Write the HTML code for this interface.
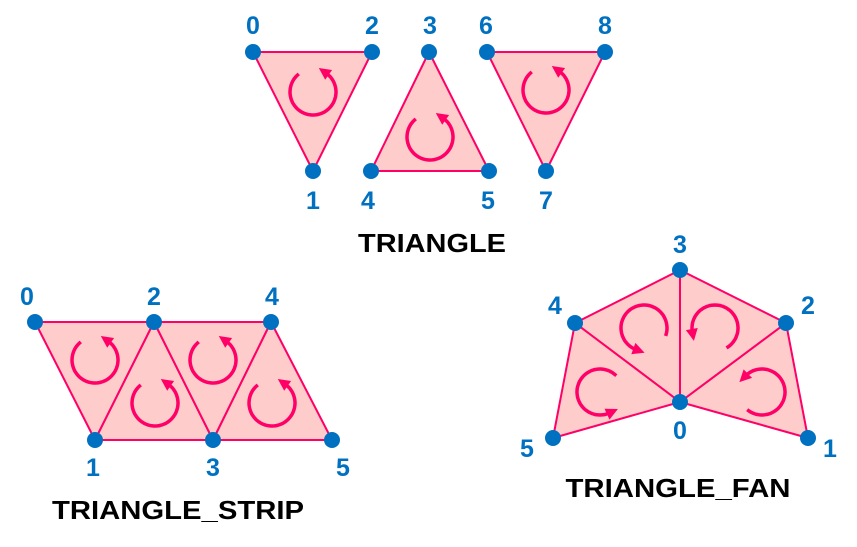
<!DOCTYPE html>
<html><head><meta charset="utf-8"><style>
html,body{margin:0;padding:0;background:#fff;width:857px;height:547px;overflow:hidden}
svg{display:block}
</style></head><body>
<svg id="s" width="857" height="547" viewBox="0 0 857 547"></svg>
<script>
const NS="http://www.w3.org/2000/svg";
const svg=document.getElementById('s');
// vertex data per group
const triVerts=[[253,52],[313,171],[372,52],[429,52],[371,171],[489,171],[487,52],[546,171],[605,52]];
const triLabels=[[253,25],[313,200],[372,25],[430,25],[368,200],[488,200],[486,25],[546,200],[605,25]];
const triFaces=[[0,1,2],[3,4,5],[6,7,8]];
const stripVerts=[[35,322],[95,440],[154,322],[213,440],[271,322],[332,440]];
const stripLabels=[[27,296],[93,467],[154,296],[213,467],[272,296],[343,467]];
const stripFaces=[[0,1,2],[1,2,3],[2,3,4],[3,4,5]];
const fanVerts=[[680,402],[808,438],[786,323],[680,270],[575,323],[553,438]];
const fanLabels=[[680,430],[830,448],[808,305],[680,244],[555,305],[527,448]];
const fanFaces=[[0,1,2],[0,2,3],[0,3,4],[0,4,5]];
// arcs: cx, cy, startAngle, endAngle (degrees, decreasing)
const arcs=[[313,92,-128,-415],[430,137,-128,-415],[546,90,-128,-415],
[95,360,-128,-415],[155,403,-128,-415],[213,360,-128,-415],[272,403,-128,-415],
[644,328,20,-250],[715,328,60,-190],[600,392,-45,-295],[762,392,130,-135]];
const titles=[["TRIANGLE",432,243,148],["TRIANGLE_STRIP",178,510,252],["TRIANGLE_FAN",678,488,225]];
function el(t,a){const e=document.createElementNS(NS,t);for(const k in a)e.setAttribute(k,a[k]);svg.appendChild(e);return e;}
function faces(V,F,name){F.forEach((f,i)=>{const p=el('polygon',{points:f.map(j=>V[j].join(',')).join(' '),fill:'#ffcccc',stroke:'#ff0066','stroke-width':2,'stroke-linejoin':'round'});

});}
faces(triVerts,triFaces,'triangles');faces(stripVerts,stripFaces,'strip');faces(fanVerts,fanFaces,'fan');
const R=23;
arcs.forEach((a,i)=>{const [cx,cy,s,e]=a;let d='';const n=60;
for(let k=0;k<=n;k++){const t=(s+(e-s)*k/n)*Math.PI/180;d+=(k?'L':'M')+(cx+R*Math.cos(t)).toFixed(1)+','+(cy+R*Math.sin(t)).toFixed(1);}
const p=el('path',{d:d,fill:'none',stroke:'#ff0066','stroke-width':3.5});


const t=e*Math.PI/180;const ex=cx+R*Math.cos(t),ey=cy+R*Math.sin(t);
const dx=Math.sin(t),dy=-Math.cos(t);const nx=-dy,ny=dx;
const tip=[ex+dx*9,ey+dy*9],b1=[ex-dx*3+nx*6,ey-dy*3+ny*6],b2=[ex-dx*3-nx*6,ey-dy*3-ny*6];
const h=el('polygon',{points:[tip,b1,b2].map(q=>q.map(v=>v.toFixed(1)).join(',')).join(' '),fill:'#ff0066'});

});
function verts(V,L,name){V.forEach((v,i)=>{const c=el('circle',{cx:v[0],cy:v[1],r:8,fill:'#0070c0'});


const t=el('text',{x:L[i][0],y:L[i][1]+9,'text-anchor':'middle','font-family':'Liberation Sans, sans-serif','font-weight':'bold','font-size':25,fill:'#0070c0'});t.textContent=i;

});}
verts(triVerts,triLabels,'triangles');verts(stripVerts,stripLabels,'strip');verts(fanVerts,fanLabels,'fan');
titles.forEach(tt=>{const t=el('text',{x:tt[1],y:tt[2]+9,'text-anchor':'middle','font-family':'Liberation Sans, sans-serif','font-weight':'bold','font-size':26,fill:'#000',textLength:tt[3],lengthAdjust:'spacingAndGlyphs'});t.textContent=tt[0];

});
</script>
</body></html>
